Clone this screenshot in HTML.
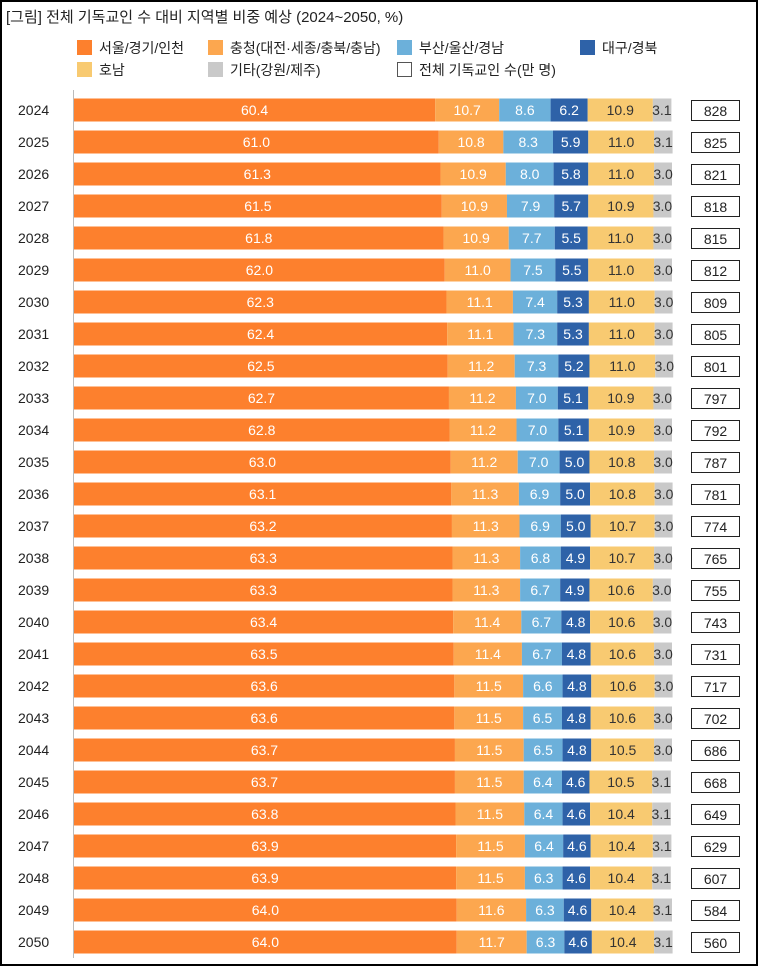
<!DOCTYPE html>
<html><head><meta charset="utf-8">
<style>
html,body{margin:0;padding:0;background:#000;}
#wrap{position:relative;width:754px;height:962px;margin:2px;background:#fff;overflow:hidden;
font-family:"Liberation Sans","Noto Sans CJK KR",sans-serif;}
.t{position:absolute;white-space:nowrap;}
.sw{position:absolute;width:15px;height:15px;}
</style></head><body>
<div id="wrap">
<div class="t" style="left:4px;top:4px;font-size:15px;color:#222">[그림] 전체 기독교인 수 대비 지역별 비중 예상 (2024~2050, %)</div>
<div id="legend"></div>
<svg id="chart" width="754" height="962" style="position:absolute;left:0;top:0"></svg>
</div>
<script>
const years=[2024,2025,2026,2027,2028,2029,2030,2031,2032,2033,2034,2035,2036,2037,2038,2039,2040,2041,2042,2043,2044,2045,2046,2047,2048,2049,2050];
const seoul=[60.4,61.0,61.3,61.5,61.8,62.0,62.3,62.4,62.5,62.7,62.8,63.0,63.1,63.2,63.3,63.3,63.4,63.5,63.6,63.6,63.7,63.7,63.8,63.9,63.9,64.0,64.0];
const chung=[10.7,10.8,10.9,10.9,10.9,11.0,11.1,11.1,11.2,11.2,11.2,11.2,11.3,11.3,11.3,11.3,11.4,11.4,11.5,11.5,11.5,11.5,11.5,11.5,11.5,11.6,11.7];
const busan=[8.6,8.3,8.0,7.9,7.7,7.5,7.4,7.3,7.3,7.0,7.0,7.0,6.9,6.9,6.8,6.7,6.7,6.7,6.6,6.5,6.5,6.4,6.4,6.4,6.3,6.3,6.3];
const daegu=[6.2,5.9,5.8,5.7,5.5,5.5,5.3,5.3,5.2,5.1,5.1,5.0,5.0,5.0,4.9,4.9,4.8,4.8,4.8,4.8,4.8,4.6,4.6,4.6,4.6,4.6,4.6];
const honam=[10.9,11.0,11.0,10.9,11.0,11.0,11.0,11.0,11.0,10.9,10.9,10.8,10.8,10.7,10.7,10.6,10.6,10.6,10.6,10.6,10.5,10.5,10.4,10.4,10.4,10.4,10.4];
const other=[3.1,3.1,3.0,3.0,3.0,3.0,3.0,3.0,3.0,3.0,3.0,3.0,3.0,3.0,3.0,3.0,3.0,3.0,3.0,3.0,3.0,3.1,3.1,3.1,3.1,3.1,3.1];
const totals=[828,825,821,818,815,812,809,805,801,797,792,787,781,774,765,755,743,731,717,702,686,668,649,629,607,584,560];
const seriesNames=["서울/경기/인천","충청(대전·세종/충북/충남)","부산/울산/경남","대구/경북","호남","기타(강원/제주)"];
const colors=["#fd802d","#fca74f","#6cb0da","#2e62a8","#f8ca71","#c9c9c9"];
const textColors=["#fff","#fff","#fff","#fff","#333","#333"];
const series=[seoul,chung,busan,daegu,honam,other];

const X0=72, PX=5.98, Y0=108, DY=32, BH=23;
const xs=v=>X0+v*PX, ys=i=>Y0+i*DY;
const NS="http://www.w3.org/2000/svg";
const svg=document.getElementById('chart');
function mk(tag,attrs){const e=document.createElementNS(NS,tag);for(const k in attrs)e.setAttribute(k,attrs[k]);svg.appendChild(e);return e;}
const ax=mk('line',{x1:X0-0.5,x2:X0-0.5,y1:88,y2:ys(years.length-1)+16,stroke:'#bbb','stroke-width':1});


years.forEach((y,i)=>{
  const cy=ys(i);
  const yl=mk('text',{x:16,y:cy+5,'font-size':14,fill:'#222','font-family':'Liberation Sans, sans-serif'});
  yl.textContent=y;
  
  
  let acc=0;
  series.forEach((s,k)=>{
    const v=s[i];
    const r=mk('rect',{x:xs(acc),y:cy-BH/2,width:v*PX,height:BH,fill:colors[k]});
    
    
    const tx=k===5?xs(acc)+9:xs(acc+v/2);
    const t=mk('text',{x:tx,y:cy+5,'font-size':14,fill:textColors[k],'text-anchor':'middle','font-family':'Liberation Sans, sans-serif'});
    t.textContent=v.toFixed(1);
    
    
    acc+=v;
  });
  const b=mk('rect',{x:689.5,y:cy-9.5,width:48,height:20,fill:'#fff',stroke:'#222','stroke-width':1});
  
  
  const tt=mk('text',{x:713.5,y:cy+6,'font-size':14,fill:'#222','text-anchor':'middle','font-family':'Liberation Sans, sans-serif'});
  tt.textContent=totals[i];
  
  
});
const lg=document.getElementById('legend');
const lpos=[[75,38],[206,38],[395,38],[578,38],[75,60],[206,60],[395,60]];
const lnames=seriesNames.concat(["전체 기독교인 수(만 명)"]);
const lcols=colors.concat(["#fff"]);
lnames.forEach((n,k)=>{
  const sw=document.createElement('div');
  sw.className='sw';
  sw.style.left=lpos[k][0]+'px';sw.style.top=lpos[k][1]+'px';
  sw.style.background=lcols[k];
  if(k===6){sw.style.border='1px solid #555';sw.style.width='13px';sw.style.height='13px';}
  
  
  lg.appendChild(sw);
  const t=document.createElement('div');
  t.className='t';
  t.style.left=(lpos[k][0]+22)+'px';t.style.top=(lpos[k][1]-2)+'px';
  t.style.fontSize='14px';t.style.color='#222';
  t.textContent=n;
  
  
  lg.appendChild(t);
});
</script>
</body></html>
